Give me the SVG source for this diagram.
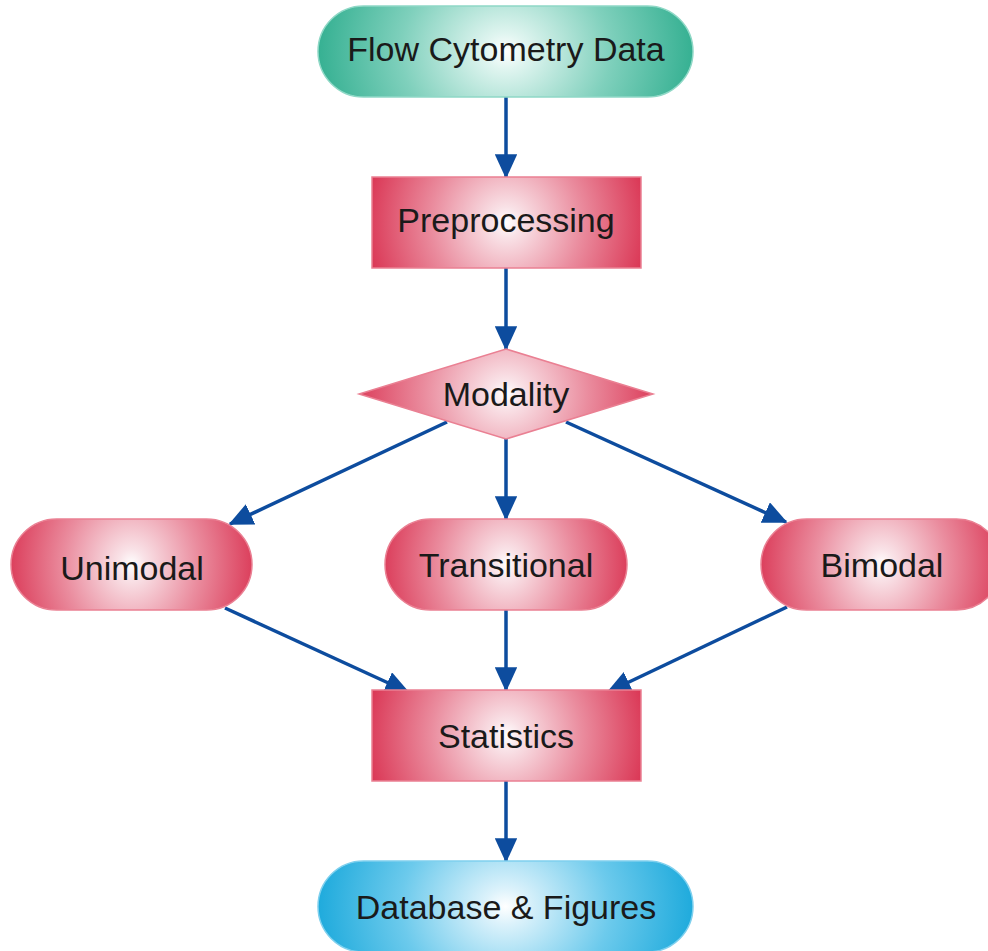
<svg xmlns="http://www.w3.org/2000/svg" width="988" height="951" viewBox="0 0 988 951">
<defs>
<radialGradient id="gRed" cx="0.5" cy="0.5" r="0.56" gradientTransform="translate(0.5,0.5) scale(1,3) translate(-0.5,-0.5)">
<stop offset="0" stop-color="#ffffff"/>
<stop offset="0.1" stop-color="#f9e2e7"/>
<stop offset="0.5" stop-color="#ea8c9e"/>
<stop offset="1" stop-color="#d82b4b"/>
</radialGradient>
<radialGradient id="gTeal" cx="0.5" cy="0.5" r="0.56" gradientTransform="translate(0.5,0.5) scale(1,3.5) translate(-0.5,-0.5)">
<stop offset="0" stop-color="#ffffff"/>
<stop offset="0.1" stop-color="#e0f5f0"/>
<stop offset="0.5" stop-color="#7fd0bc"/>
<stop offset="1" stop-color="#22a887"/>
</radialGradient>
<radialGradient id="gBlue" cx="0.5" cy="0.5" r="0.56" gradientTransform="translate(0.5,0.5) scale(1,3.5) translate(-0.5,-0.5)">
<stop offset="0" stop-color="#ffffff"/>
<stop offset="0.1" stop-color="#dcf2fb"/>
<stop offset="0.5" stop-color="#6ccaec"/>
<stop offset="1" stop-color="#0aa2d8"/>
</radialGradient>
<marker id="arr" markerWidth="7" markerHeight="6.4" refX="6.5" refY="3.2" orient="auto" markerUnits="strokeWidth">
<path d="M0,0 L7,3.2 L0,6.4 z" fill="#0d4c9e"/>
</marker>
<style>
.red{fill:url(#gRed);stroke:#ea8093;stroke-width:1.5}
.teal{fill:url(#gTeal);stroke:#8fd8c6;stroke-width:1.5}
.blue{fill:url(#gBlue);stroke:#7fd0ee;stroke-width:1.5}
.lbl{font-family:"Liberation Sans",Arial,sans-serif;font-size:34px;fill:#1a1a1a;text-anchor:middle;dominant-baseline:central}
.conn line{stroke:#0d4c9e;stroke-width:3.5;marker-end:url(#arr)}
</style>
</defs>
<g class="conn" id="connectors">
<line x1="506" y1="97" x2="506" y2="177"/>
<line x1="506" y1="268" x2="506" y2="349"/>
<line x1="447" y1="422" x2="230" y2="524"/>
<line x1="506" y1="439" x2="506" y2="519"/>
<line x1="566" y1="422" x2="786" y2="522"/>
<line x1="225" y1="608" x2="408" y2="692"/>
<line x1="506" y1="610" x2="506" y2="690"/>
<line x1="787" y1="607" x2="608" y2="692"/>
<line x1="506" y1="781" x2="506" y2="861"/>
</g>
<g id="flow">
<rect class="teal" x="318" y="6" width="375" height="91" rx="45.5"/>
<text class="lbl" x="506" y="49">Flow Cytometry Data</text>
</g>
<g id="preprocessing">
<rect class="red" x="372" y="177" width="269" height="91"/>
<text class="lbl" x="506" y="220">Preprocessing</text>
</g>
<g id="modality">
<polygon class="red" points="506,349 653,394 506,439 359,394"/>
<text class="lbl" x="506" y="394">Modality</text>
</g>
<g id="unimodal">
<rect class="red" x="11" y="519" width="241" height="91" rx="45.5"/>
<text class="lbl" x="132" y="568">Unimodal</text>
</g>
<g id="transitional">
<rect class="red" x="385" y="519" width="242" height="91" rx="45.5"/>
<text class="lbl" x="506" y="565">Transitional</text>
</g>
<g id="bimodal">
<rect class="red" x="761" y="519" width="241" height="91" rx="45.5"/>
<text class="lbl" x="882" y="565">Bimodal</text>
</g>
<g id="statistics">
<rect class="red" x="372" y="690" width="269" height="91"/>
<text class="lbl" x="506" y="736">Statistics</text>
</g>
<g id="database">
<rect class="blue" x="318" y="861" width="375" height="91" rx="45.5"/>
<text class="lbl" x="506" y="907">Database &amp; Figures</text>
</g>
</svg>
